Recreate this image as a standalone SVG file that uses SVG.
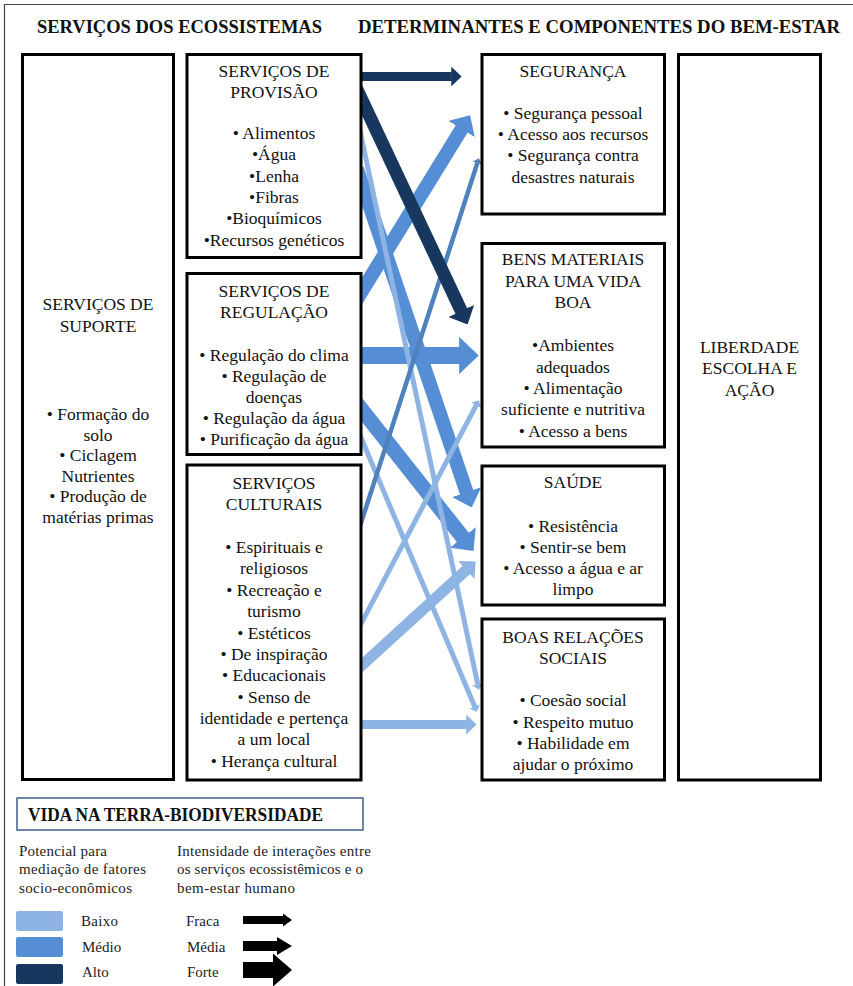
<svg xmlns="http://www.w3.org/2000/svg" width="853" height="986" viewBox="0 0 853 986">
<style>
.box{fill:#fff;stroke:#000;stroke-width:3}
.t{font-family:"Liberation Serif","Times New Roman",serif;font-size:17.5px;fill:#111;text-anchor:middle}
.h{font-family:"Liberation Serif","Times New Roman",serif;font-size:18px;font-weight:bold;fill:#111}
.lg{font-family:"Liberation Serif","Times New Roman",serif;font-size:15px;fill:#222}
.dk{stroke:#17375E;fill:none}
.md{stroke:#558ED5;fill:none}
.lt{stroke:#8EB4E3;fill:none}
.mb{stroke:#4F81BD;fill:none}
</style>
<defs>
<marker id="hDk" viewBox="0 0 11.5 22" markerWidth="1.15" markerHeight="2.2" refX="0.5" refY="11" orient="auto" markerUnits="strokeWidth"><path d="M0,0 L11.5,11 L0,22 Z" fill="#17375E"/></marker>
<marker id="hMd" viewBox="0 0 11.5 22" markerWidth="1.15" markerHeight="2.2" refX="0.5" refY="11" orient="auto" markerUnits="strokeWidth"><path d="M0,0 L11.5,11 L0,22 Z" fill="#558ED5"/></marker>
<marker id="hLt" viewBox="0 0 11.5 22" markerWidth="1.15" markerHeight="2.2" refX="0.5" refY="11" orient="auto" markerUnits="strokeWidth"><path d="M0,0 L11.5,11 L0,22 Z" fill="#8EB4E3"/></marker>
<marker id="hMb" viewBox="0 0 11.5 22" markerWidth="1.15" markerHeight="2.2" refX="0.5" refY="11" orient="auto" markerUnits="strokeWidth"><path d="M0,0 L11.5,11 L0,22 Z" fill="#4F81BD"/></marker>
</defs>
<rect x="0" y="0" width="853" height="986" fill="#fff"/>
<path d="M4.5,986 V4.5 H853" fill="none" stroke="#444" stroke-width="1.2"/>

<g id="headers">
<text class="h" x="37" y="33" textLength="285" lengthAdjust="spacingAndGlyphs">SERVIÇOS DOS ECOSSISTEMAS</text>
<text class="h" x="358" y="33" textLength="482" lengthAdjust="spacingAndGlyphs">DETERMINANTES E COMPONENTES DO BEM-ESTAR</text>
</g>

<g id="connectors">
<line class="md" x1="354.1" y1="303.8" x2="462" y2="128.4" stroke-width="14" marker-end="url(#hMd)"/>
<line class="md" x1="357" y1="168.8" x2="466.8" y2="492.8" stroke-width="14" marker-end="url(#hMd)"/>
<line class="md" x1="352.7" y1="398.2" x2="463.3" y2="538" stroke-width="15" marker-end="url(#hMd)"/>
<line class="md" x1="355" y1="355.5" x2="460" y2="355.5" stroke-width="17" marker-end="url(#hMd)"/>
<line class="lt" x1="359.9" y1="130.2" x2="477.8" y2="684.4" stroke-width="5" marker-end="url(#hLt)"/>
<line class="lt" x1="358.1" y1="430.8" x2="474.8" y2="706.7" stroke-width="5" marker-end="url(#hLt)"/>
<line class="lt" x1="357.3" y1="630.8" x2="476.3" y2="405.1" stroke-width="5" marker-end="url(#hLt)"/>
<line class="lt" x1="351" y1="675.2" x2="466.7" y2="569.6" stroke-width="11" marker-end="url(#hLt)"/>
<line class="lt" x1="355" y1="724.5" x2="466.7" y2="724.5" stroke-width="9" marker-end="url(#hLt)"/>
<line class="mb" x1="358.9" y1="529.5" x2="477.4" y2="162.9" stroke-width="4.5" marker-end="url(#hMb)"/>
<line class="dk" x1="355" y1="76.5" x2="451.7" y2="76.5" stroke-width="9" marker-end="url(#hDk)"/>
<line class="dk" x1="355.6" y1="86.4" x2="461.5" y2="311.5" stroke-width="13" marker-end="url(#hDk)"/>
</g>

<g id="suporte">
<rect class="box" x="22.5" y="54.5" width="151" height="725"/>
<text class="t" x="98" y="310">SERVIÇOS DE</text>
<text class="t" x="98" y="332">SUPORTE</text>
<text class="t" x="98" y="420">• Formação do</text>
<text class="t" x="98" y="440.5">solo</text>
<text class="t" x="98" y="461">• Ciclagem</text>
<text class="t" x="98" y="481.5">Nutrientes</text>
<text class="t" x="98" y="502">• Produção de</text>
<text class="t" x="98" y="522.5">matérias primas</text>
</g>

<g id="provisao">
<rect class="box" x="187" y="54.5" width="174" height="203"/>
<text class="t" x="274" y="76.5">SERVIÇOS DE</text>
<text class="t" x="274" y="97.5">PROVISÃO</text>
<text class="t" x="274" y="139">• Alimentos</text>
<text class="t" x="274" y="160.3">•Água</text>
<text class="t" x="274" y="181.6">•Lenha</text>
<text class="t" x="274" y="203">•Fibras</text>
<text class="t" x="274" y="224.2">•Bioquímicos</text>
<text class="t" x="274" y="245.5">•Recursos genéticos</text>
</g>

<g id="regulacao">
<rect class="box" x="187" y="273.5" width="174" height="181"/>
<text class="t" x="274" y="297">SERVIÇOS DE</text>
<text class="t" x="274" y="318">REGULAÇÃO</text>
<text class="t" x="274" y="361">• Regulação do clima</text>
<text class="t" x="274" y="382">• Regulação de</text>
<text class="t" x="274" y="403">doenças</text>
<text class="t" x="274" y="424">• Regulação da água</text>
<text class="t" x="274" y="445">• Purificação da água</text>
</g>

<g id="culturais">
<rect class="box" x="187" y="465" width="174" height="315"/>
<text class="t" x="274" y="489">SERVIÇOS</text>
<text class="t" x="274" y="510">CULTURAIS</text>
<text class="t" x="274" y="553">• Espirituais e</text>
<text class="t" x="274" y="574">religiosos</text>
<text class="t" x="274" y="596">• Recreação e</text>
<text class="t" x="274" y="617">turismo</text>
<text class="t" x="274" y="639">• Estéticos</text>
<text class="t" x="274" y="660">• De inspiração</text>
<text class="t" x="274" y="681">• Educacionais</text>
<text class="t" x="274" y="703">• Senso de</text>
<text class="t" x="274" y="724">identidade e pertença</text>
<text class="t" x="274" y="745">a um local</text>
<text class="t" x="274" y="767">• Herança cultural</text>
</g>

<g id="seguranca">
<rect class="box" x="482" y="54.5" width="182.5" height="159.5"/>
<text class="t" x="573" y="77">SEGURANÇA</text>
<text class="t" x="573" y="119">• Segurança pessoal</text>
<text class="t" x="573" y="140">• Acesso aos recursos</text>
<text class="t" x="573" y="161">• Segurança contra</text>
<text class="t" x="573" y="183">desastres naturais</text>
</g>

<g id="bens">
<rect class="box" x="482" y="243.5" width="182.5" height="203.5"/>
<text class="t" x="573" y="265">BENS MATERIAIS</text>
<text class="t" x="573" y="287">PARA UMA VIDA</text>
<text class="t" x="573" y="308">BOA</text>
<text class="t" x="573" y="351">•Ambientes</text>
<text class="t" x="573" y="373">adequados</text>
<text class="t" x="573" y="394">• Alimentação</text>
<text class="t" x="573" y="415">suficiente e nutritiva</text>
<text class="t" x="573" y="437">• Acesso a bens</text>
</g>

<g id="saude">
<rect class="box" x="482" y="466" width="182.5" height="139"/>
<text class="t" x="573" y="488">SAÚDE</text>
<text class="t" x="573" y="532">• Resistência</text>
<text class="t" x="573" y="553">• Sentir-se bem</text>
<text class="t" x="573" y="574">• Acesso a água e ar</text>
<text class="t" x="573" y="595">limpo</text>
</g>

<g id="relacoes">
<rect class="box" x="482" y="619" width="182.5" height="161"/>
<text class="t" x="573" y="643">BOAS RELAÇÕES</text>
<text class="t" x="573" y="664">SOCIAIS</text>
<text class="t" x="573" y="706">• Coesão social</text>
<text class="t" x="573" y="728">• Respeito mutuo</text>
<text class="t" x="573" y="749">• Habilidade em</text>
<text class="t" x="573" y="770">ajudar o próximo</text>
</g>

<g id="liberdade">
<rect class="box" x="678.5" y="54.5" width="142" height="725.5"/>
<text class="t" x="749.5" y="353">LIBERDADE</text>
<text class="t" x="749.5" y="374">ESCOLHA E</text>
<text class="t" x="749.5" y="396">AÇÃO</text>
</g>

<g id="legend">
<rect x="17" y="798" width="346" height="32" fill="#fff" stroke="#3F5F8A" stroke-width="1.5"/>
<text class="h" x="28" y="821" textLength="295" lengthAdjust="spacingAndGlyphs">VIDA NA TERRA-BIODIVERSIDADE</text>
<text class="lg" x="19" y="856" textLength="88" lengthAdjust="spacing">Potencial para</text>
<text class="lg" x="19" y="874" textLength="127" lengthAdjust="spacing">mediação de fatores</text>
<text class="lg" x="19" y="893" textLength="113" lengthAdjust="spacing">socio-econômicos</text>
<text class="lg" x="177" y="856" textLength="194" lengthAdjust="spacing">Intensidade de interações entre</text>
<text class="lg" x="177" y="874" textLength="186" lengthAdjust="spacing">os serviços ecossistêmicos e o</text>
<text class="lg" x="177" y="893" textLength="118" lengthAdjust="spacing">bem-estar humano</text>
<rect x="16" y="911" width="47" height="20" rx="2" fill="#8EB4E3"/>
<rect x="16" y="937" width="47" height="20" rx="2" fill="#558ED5"/>
<rect x="16" y="964" width="47" height="20" rx="2" fill="#17375E"/>
<text class="lg" x="81" y="926" textLength="37" lengthAdjust="spacing">Baixo</text>
<text class="lg" x="82" y="952">Médio</text>
<text class="lg" x="82" y="977">Alto</text>
<text class="lg" x="186" y="926">Fraca</text>
<text class="lg" x="187" y="952">Média</text>
<text class="lg" x="187" y="977">Forte</text>
<polygon points="243,916 283,916 283,913.5 292,920 283,926.5 283,924 243,924" fill="#000"/>
<polygon points="243,941 277,941 277,937 292,946 277,955 277,951 243,951" fill="#000"/>
<polygon points="243,962 273,962 273,953.5 292,970 273,986.5 273,978 243,978" fill="#000"/>
</g>
</svg>
